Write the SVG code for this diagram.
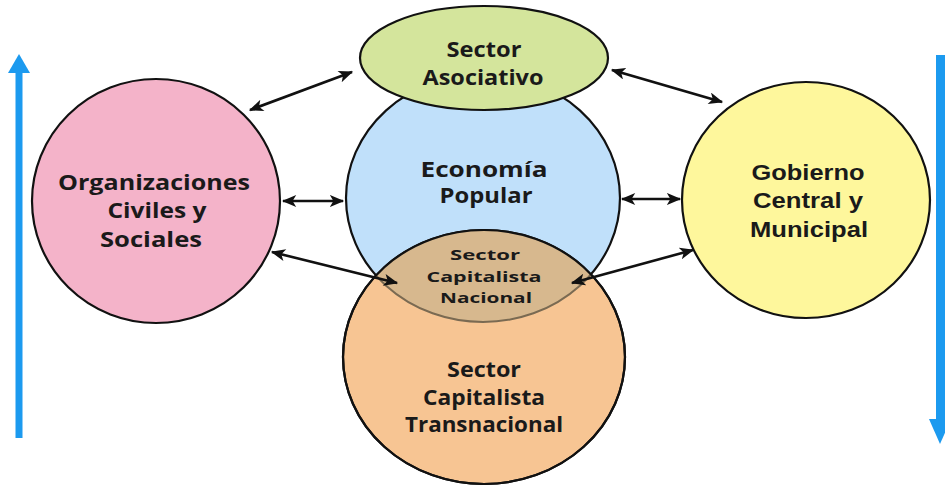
<svg xmlns="http://www.w3.org/2000/svg" width="945" height="499" viewBox="0 0 945 499">
<defs>
<style>
.node{stroke:#111;stroke-width:2.2}
.t{font-family:"Century Gothic","URW Gothic","Open Sans","DejaVu Sans",sans-serif;font-weight:700;fill:#1a1a1a;text-anchor:middle}
.ta{font-family:"Liberation Sans",Arial,sans-serif;font-weight:700;fill:#1a1a1a;text-anchor:middle}
.c{stroke:#111;stroke-width:2.6;fill:none;marker-start:url(#ah);marker-end:url(#ah)}
.blue{fill:#1C9AEF}
</style>
<marker id="ah" viewBox="0 0 12 10" refX="11" refY="5" markerWidth="15" markerHeight="12" markerUnits="userSpaceOnUse" orient="auto-start-reverse">
<path d="M0,0 L12,5 L0,10 L3,5 Z" fill="#111"/>
</marker>
<clipPath id="orangeClip"><ellipse cx="484" cy="357" rx="141" ry="127"/></clipPath>
</defs>
<rect width="945" height="499" fill="#ffffff"/>

<g id="arrow-up">
<rect class="blue" x="15.5" y="70" width="7" height="368"/>
<polygon class="blue" points="8,73 19,54 30,73"/>
</g>
<g id="arrow-down">
<rect class="blue" x="936" y="55" width="9" height="366"/>
<polygon class="blue" points="929,419 940,444 951,419"/>
</g>

<g id="organizaciones">
<ellipse class="node" cx="156" cy="201" rx="124" ry="122" fill="#F4B3C9"/>
<text class="t" font-size="21" x="154" y="190" textLength="192" lengthAdjust="spacingAndGlyphs">Organizaciones</text>
<text class="t" font-size="21" x="157" y="218" textLength="99" lengthAdjust="spacingAndGlyphs">Civiles y</text>
<text class="t" font-size="21" x="151" y="247" textLength="102" lengthAdjust="spacingAndGlyphs">Sociales</text>
</g>

<g id="gobierno">
<ellipse class="node" cx="806" cy="200" rx="124" ry="118" fill="#FEF79C"/>
<text class="ta" font-size="22" x="808" y="180" textLength="113" lengthAdjust="spacingAndGlyphs">Gobierno</text>
<text class="ta" font-size="22" x="808" y="208" textLength="110" lengthAdjust="spacingAndGlyphs">Central y</text>
<text class="ta" font-size="22" x="809" y="237" textLength="118" lengthAdjust="spacingAndGlyphs">Municipal</text>
</g>

<g id="economia-popular">
<ellipse class="node" cx="483" cy="198" rx="137" ry="124" fill="#C0E0FA"/>
<text class="t" font-size="21" x="484" y="177" textLength="127" lengthAdjust="spacingAndGlyphs">Economía</text>
<text class="t" font-size="21" x="486" y="203" textLength="93" lengthAdjust="spacingAndGlyphs">Popular</text>
</g>

<g id="capitalista-transnacional">
<ellipse class="node" cx="484" cy="357" rx="141" ry="127" fill="#F7C593"/>
<text class="t" font-size="21" x="484" y="377" textLength="74" lengthAdjust="spacingAndGlyphs">Sector</text>
<text class="t" font-size="21" x="484" y="405" textLength="122" lengthAdjust="spacingAndGlyphs">Capitalista</text>
<text class="t" font-size="21" x="484" y="432" textLength="158" lengthAdjust="spacingAndGlyphs">Transnacional</text>
</g>

<g id="capitalista-nacional">
<ellipse cx="483" cy="198" rx="137" ry="124" fill="#D7B88E" stroke="#7A6A52" stroke-width="2" clip-path="url(#orangeClip)"/>
<ellipse cx="484" cy="357" rx="141" ry="127" fill="none" stroke="#111" stroke-width="2.2"/>
<text class="t" font-size="15" x="485" y="260" textLength="70" lengthAdjust="spacingAndGlyphs">Sector</text>
<text class="t" font-size="15" x="484" y="282" textLength="115" lengthAdjust="spacingAndGlyphs">Capitalista</text>
<text class="t" font-size="15" x="486" y="303" textLength="92" lengthAdjust="spacingAndGlyphs">Nacional</text>
</g>

<g id="asociativo">
<ellipse class="node" cx="484" cy="58" rx="124" ry="52" fill="#D4E59C"/>
<text class="t" font-size="21" x="484" y="57" textLength="75" lengthAdjust="spacingAndGlyphs">Sector</text>
<text class="t" font-size="21" x="483" y="85" textLength="121" lengthAdjust="spacingAndGlyphs">Asociativo</text>
</g>

<g id="connectors">
<line class="c" x1="250" y1="110" x2="352" y2="72"/>
<line class="c" x1="283" y1="201" x2="343" y2="201"/>
<line class="c" x1="272" y1="252" x2="397" y2="283"/>
<line class="c" x1="612" y1="70" x2="722" y2="102"/>
<line class="c" x1="622" y1="199" x2="680" y2="199"/>
<line class="c" x1="572" y1="283" x2="693" y2="250"/>
</g>
</svg>
